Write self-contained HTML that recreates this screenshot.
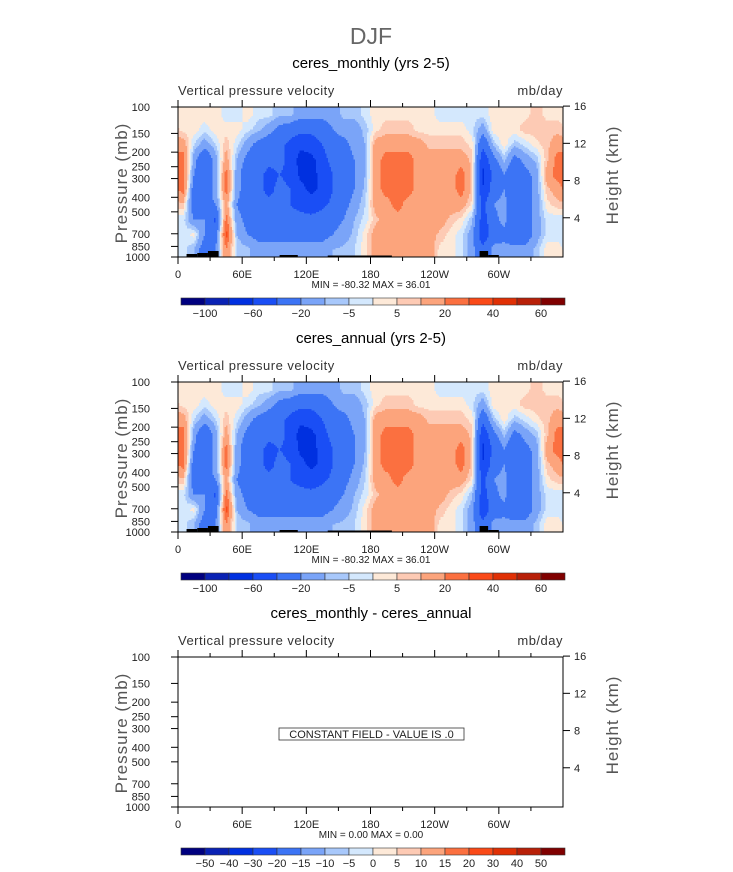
<!DOCTYPE html>
<html><head><meta charset="utf-8"><style>
html,body{margin:0;padding:0;background:#fff;}
svg{display:block;font-family:"Liberation Sans",sans-serif;}
.t{font-size:11px;fill:#222;}
.th{font-size:13px;fill:#333;letter-spacing:0.5px;}
</style></head><body>
<svg id="fig" width="733" height="872" viewBox="0 0 733 872" xmlns="http://www.w3.org/2000/svg">
<text x="371" y="44" text-anchor="middle" font-size="23" fill="#666">DJF</text>
</svg>
<script>
// ---- data ----
const levels = [-100,-80,-60,-40,-20,-10,-5,0,5,10,20,30,40,50,60];
const cbLabels12 = ["-100","","-60","","-20","","-5","","5","","20","","40","","60"];
const cbLabels3 = ["-50","-40","-30","-20","-15","-10","-5","0","5","10","15","20","30","40","50"];
const colors = ["#00007f","#0a22b4","#0030e0","#1a4ef5","#3c74f5","#7aa4f8","#a8c8fb","#d4e8fd","#fde9d8","#fdcab4","#fca47c","#fb7040","#fa4a18","#e03005","#b82008","#800000"];
const lonTicks = ["0","60E","120E","180","120W","60W"];
const presTicks = [100,150,200,250,300,400,500,700,850,1000];
const hgtTicks = [16,12,8,4];
// omega grid: 36 lon bins (10 deg), 10 rows top->bottom
const omega = [
[3,3,15,25,25,25,8,-3,-3,-3],
[3,3,-5,-15,-20,-30,-30,-20,2,-10],
[3,-3,-15,-35,-35,-30,-25,-20,-20,-30],
[3,3,-5,-15,-15,-15,-20,-45,-30,-20],
[-3,3,8,15,25,25,15,25,35,20],
[-3,3,-3,-10,-15,-15,-20,-15,-10,-5],
[3,-3,-15,-25,-30,-30,-30,-25,-20,-8],
[-3,-8,-25,-30,-35,-35,-35,-30,-25,-15],
[-3,-15,-30,-35,-45,-45,-35,-30,-25,-15],
[-8,-25,-35,-35,-40,-35,-35,-30,-25,-15],
[-8,-30,-45,-45,-45,-40,-40,-35,-25,-15],
[-15,-35,-55,-70,-65,-55,-45,-35,-25,-15],
[-15,-35,-50,-65,-65,-65,-50,-35,-25,-15],
[-15,-30,-40,-50,-55,-55,-45,-30,-25,-15],
[-15,-20,-25,-30,-40,-40,-35,-25,-20,-10],
[-8,-15,-25,-30,-30,-30,-25,-20,-15,-8],
[-8,-15,-15,-20,-20,-20,-15,-10,-8,-5],
[-3,-8,-10,-10,-10,-8,-5,-3,3,3],
[3,3,15,15,15,15,15,8,15,15],
[3,8,15,25,25,25,15,15,15,15],
[3,8,15,25,25,25,25,15,15,15],
[3,8,15,25,25,25,15,15,15,15],
[3,3,15,15,15,15,15,15,15,15],
[3,3,8,15,15,15,15,15,15,15],
[-3,3,8,15,15,15,15,15,8,3],
[-3,3,8,15,15,15,15,8,3,3],
[-3,3,8,15,25,25,15,3,-3,-3],
[-3,-3,3,8,8,8,3,-8,-15,-15],
[-3,-15,-35,-55,-65,-60,-45,-50,-55,-35],
[3,3,-8,-25,-35,-30,-20,-25,-30,-15],
[3,3,3,-8,-20,-20,-15,-15,-25,-15],
[3,3,-8,-25,-35,-35,-35,-35,-35,-15],
[3,8,-3,-15,-25,-30,-30,-30,-30,-15],
[8,8,3,-8,-15,-15,-15,-15,-15,-8],
[3,8,8,8,15,8,3,-3,-3,3],
[3,8,15,25,25,15,8,-3,-3,3]
];
// topography blocks: [lonStart, lonEnd, heightPx]
const topo = [[8,18,3],[18,28,4],[28,38,6],[95,112,2],[140,200,1.5],[282,290,6],[290,300,2]];

const NS="http://www.w3.org/2000/svg";
const svg=document.getElementById('fig');
const X0=178, X1=563, PW=X1-X0, PH=150;
function xOf(lon){return X0+lon/360*PW;}
function yOf(p,top){return top+Math.log(p/100)/Math.log(10)*PH;}
function mk(tag,attrs,parent){const e=document.createElementNS(NS,tag);for(const k in attrs)e.setAttribute(k,attrs[k]);(parent||svg).appendChild(e);return e;}
function txt(x,y,s,attrs,parent){const e=mk('text',Object.assign({x:x,y:y},attrs||{}),parent);e.textContent=s;return e;}
function colorIdx(v){let i=0;while(i<levels.length&&v>=levels[i])i++;return i;}
function val(fx,fy){
  const nx=omega.length, ny=omega[0].length;
  let gx=fx-0.5, gy=Math.max(0,Math.min(ny-1,fy-0.5));
  let i0=Math.floor(gx), tx=gx-i0; let j0=Math.floor(gy), ty=gy-j0;
  if(j0>=ny-1){j0=ny-2;ty=1;}
  const a=(i0%nx+nx)%nx, b=((i0+1)%nx+nx)%nx;
  const v00=omega[a][j0],v10=omega[b][j0],v01=omega[a][j0+1],v11=omega[b][j0+1];
  return (v00*(1-tx)+v10*tx)*(1-ty)+(v01*(1-tx)+v11*tx)*ty;
}

function panel(top,title,mn,mx,hasData,cb){
  const g=mk('g',{});
  
  
  const tt=txt(371,top-39,title,{'text-anchor':'middle','font-size':'15','fill':'#000'},g);
  
  
  const lt=txt(X0,top-12,'Vertical pressure velocity',{'class':'th'},g);
  
  
  const ut=txt(X1,top-12,'mb/day',{'class':'th','text-anchor':'end'},g);
  
  
  if(hasData){
    const cg=mk('g',{},g);
    
    
    const cs=1.5, nxs=Math.ceil(PW/cs), nys=Math.ceil(PH/cs);
    for(let iy=0;iy<nys;iy++){
      const py=iy*cs;
      const fy=(py+cs/2)/PH*omega[0].length;
      let runStart=0, runC=-1;
      for(let ix=0;ix<=nxs;ix++){
        const px=Math.min(ix*cs,PW);
        let c=-2;
        if(ix<nxs){const fx=(px+cs/2)/PW*omega.length;c=colorIdx(val(fx,fy));}
        if(c!==runC){
          if(runC>=0){const r=mk('rect',{x:X0+runStart,y:top+py,width:px-runStart+0.4,height:Math.min(cs,PH-py)+0.4,fill:colors[runC]},cg);
            
            }
          runStart=px;runC=c;
        }
      }
    }
    topo.forEach(t=>{const r=mk('rect',{x:xOf(t[0]),y:top+PH-t[2],width:xOf(t[1])-xOf(t[0]),height:t[2],fill:'#000'},g);
      
      });
  } else {
    const bx=mk('rect',{x:279,y:top+71,width:185,height:12,fill:'none',stroke:'#333','stroke-width':'0.8'},g);
    
    
    const ct=txt(371.5,top+81,'CONSTANT FIELD - VALUE IS .0',{'text-anchor':'middle','font-size':'11','fill':'#222'},g);
    
    
  }
  const fr=mk('rect',{x:X0,y:top,width:PW,height:PH,fill:'none',stroke:'#000','stroke-width':'1'},g);
  
  
  for(let k=0;k<12;k++){
    const x=xOf(k*30), major=k%2===0;
    mk('line',{x1:x,y1:top+PH,x2:x,y2:top+PH+(major?7:4),stroke:'#000'},g);
    mk('line',{x1:x,y1:top,x2:x,y2:top-(major?7:4),stroke:'#000'},g);
    if(major){const l=txt(x,top+PH+21,lonTicks[k/2],{'class':'t','text-anchor':'middle'},g);
      
      }
  }
  presTicks.forEach(p=>{const y=yOf(p,top);
    mk('line',{x1:X0-7,y1:y,x2:X0,y2:y,stroke:'#000'},g);
    const l=txt(X0-28,y+4,String(p),{'class':'t','text-anchor':'end'},g);
    
    });
  hgtTicks.forEach(h=>{const p=1000*Math.exp(-h/7.0);const y=yOf(p,top)-2;
    mk('line',{x1:X1,y1:y,x2:X1+7,y2:y,stroke:'#000'},g);
    const l=txt(X1+11,y+4,String(h),{'class':'t'},g);
    
    });
  const yl=txt(0,0,'Pressure (mb)',{'font-size':'17','fill':'#555','text-anchor':'middle','transform':`translate(127,${top+76}) rotate(-90)`,'letter-spacing':'1'},g);
  
  
  const yr=txt(0,0,'Height (km)',{'font-size':'17','fill':'#555','text-anchor':'middle','transform':`translate(618,${top+68}) rotate(-90)`,'letter-spacing':'1'},g);
  
  
  const mm=txt(371,top+PH+31,`MIN =  ${mn}   MAX =  ${mx}`,{'font-size':'10','fill':'#222','text-anchor':'middle','xml:space':'preserve'},g);
  
  
  const cy=top+PH+41, cw=(X1-X0-1)/16;
  const cbg=mk('g',{},g);
  
  
  colors.forEach((c,i)=>{const r=mk('rect',{x:181+i*cw,y:cy,width:cw,height:7,fill:c,stroke:'#333','stroke-width':'0.6'},cbg);
    
    });
  cb.forEach((s,i)=>{if(!s)return;const l=txt(181+(i+1)*cw,cy+19,s.replace('-','\u2212'),{'font-size':'11','fill':'#222','text-anchor':'middle'},cbg);
    
    });
}
panel(107,'ceres_monthly (yrs 2-5)','-80.32','36.01',true,cbLabels12);
panel(382,'ceres_annual (yrs 2-5)','-80.32','36.01',true,cbLabels12);
panel(657,'ceres_monthly - ceres_annual','0.00','0.00',false,cbLabels3);
</script>
</body></html>
